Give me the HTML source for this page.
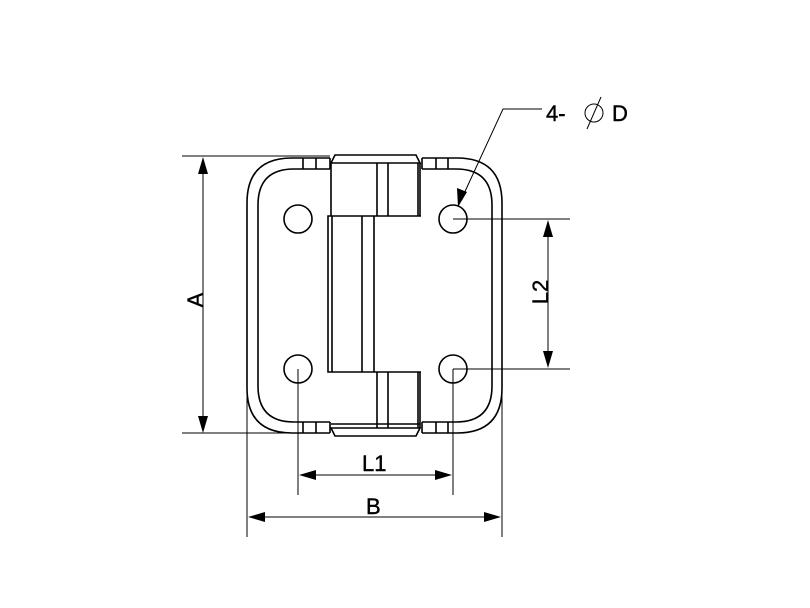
<!DOCTYPE html>
<html><head><style>body{margin:0;background:#fff}svg{display:block}</style></head><body>
<svg width="810" height="608" viewBox="0 0 810 608" xmlns="http://www.w3.org/2000/svg" font-family="Liberation Sans, DejaVu Sans, sans-serif">
<g fill="none" stroke="#000" stroke-width="1.6">
<path d="M330 158 H292 Q247 158 247 203 V388 Q247 433 292 433 H330"/>
<path d="M422 158 H457 Q502 158 502 203 V388 Q502 433 457 433 H422"/>
<path d="M330 169 H294 Q258 169 258 205 V386 Q258 422 294 422 H330"/>
<path d="M422 169 H456 Q492 169 492 205 V386 Q492 422 456 422 H422"/>
<path d="M303 158 V169 M316 158 V169 M330 158 V169"/>
<path d="M422 158 V169 M436 158 V169 M448 158 V169"/>
<path d="M303 422 V433 M316 422 V433 M330 422 V433"/>
<path d="M422 422 V433 M436 422 V433 M448 422 V433"/>
<path d="M331 163 L335 155 H416 L420 163 Z"/>
<path d="M331 163 V216 M420 163 V216 M418 163 V216 M377 163 V216 M388 163 V216"/>
<path d="M331 428 L335 436 H416 L420 428 Z"/>
<path d="M331 424 H420"/>
<path d="M420 372 V428 M418 372 V428 M377 372 V428 M388 372 V428"/>
<path d="M421 216 H328 V372 H421"/>
<path d="M332 216 V372 M362 216 V372 M374 216 V372"/>
<circle cx="298" cy="219" r="14"/><circle cx="453" cy="219" r="14"/>
<circle cx="298" cy="369" r="14"/><circle cx="453" cy="369" r="14"/>
</g>
<g fill="none" stroke="#000" stroke-width="1">
<path d="M182 156 H330 M182 433 H330 M203 160 V430"/>
<path d="M453 219 H570 M453 369 H570 M548 223 V365"/>
<path d="M298 369 V495 M453 369 V495 M302 475 H449"/>
<path d="M247 395 V537 M502 395 V537 M251 517 H498"/>
<path d="M542 109 H503 L462 198"/>
</g>
<g fill="#000">
<path d="M203 157 L198 174 L208 174 Z"/><path d="M203 433 L198 416 L208 416 Z"/>
<path d="M548 220 L543 237 L553 237 Z"/><path d="M548 368 L543 351 L553 351 Z"/>
<path d="M299 475 L316 470 L316 480 Z"/><path d="M452 475 L435 470 L435 480 Z"/>
<path d="M248 517 L265 512 L265 522 Z"/><path d="M501 517 L484 512 L484 522 Z"/>
<path d="M458 207 L457 188 L467 192 Z"/>
</g>
<g font-size="22" fill="#000" stroke="#000" stroke-width="0.4">
<text x="546" y="121">4-</text>
<text x="612" y="121">D</text>
<text x="362" y="471">L1</text>
<text x="366" y="514">B</text>
<text transform="translate(203 300) rotate(-90)" text-anchor="middle">A</text>
<text transform="translate(548 292) rotate(-90)" text-anchor="middle">L2</text>
</g>
<circle cx="594" cy="113" r="9" fill="none" stroke="#000" stroke-width="1"/>
<path d="M587 129 L601 97" stroke="#000" stroke-width="1"/>
</svg>
</body></html>
